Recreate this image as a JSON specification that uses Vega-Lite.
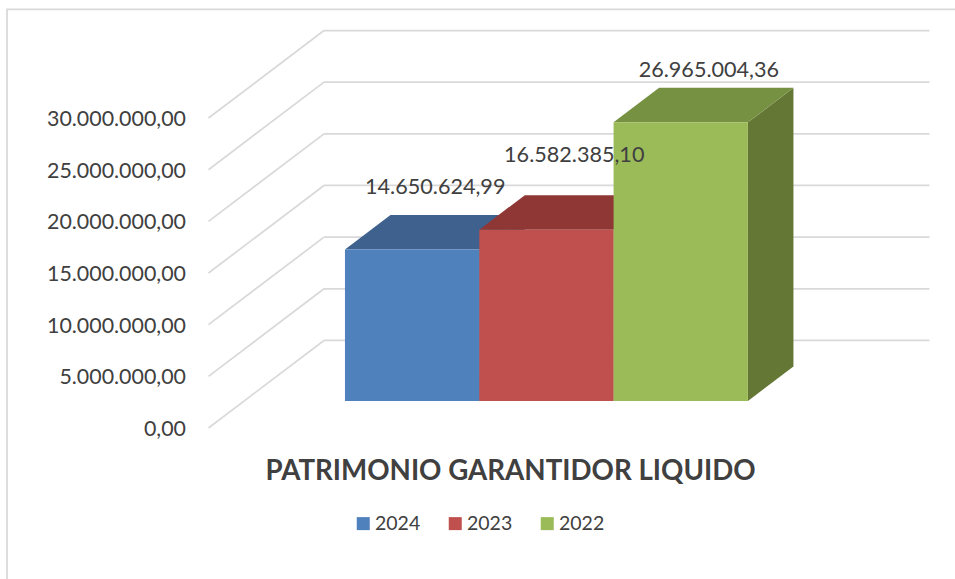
{
"$schema":"https://vega.github.io/schema/vega-lite/v6.json",
"width":721,"height":397.5,
"autosize":"none",
"padding":{"left":208.5,"top":30.5,"right":25.5,"bottom":151},
"background":"white",
"config":{"view":{"stroke":null},"text":{"font":"Lato"}},
"title":{"text":"PATRIMONIO GARANTIDOR LIQUIDO","orient":"top","anchor":"middle","frame":"group","dx":-58.5,"dy":477,"offset":0,"font":"Lato","fontSize":27.7,"fontWeight":"bold","color":"#404040"},
"datasets":{
"bars":[
{"year":"2024","slot":0,"value":14650624.99,"label":"14.650.624,99"},
{"year":"2023","slot":1,"value":16582385.10,"label":"16.582.385,10"},
{"year":"2022","slot":2,"value":26965004.36,"label":"26.965.004,36"}],
"levels":[{"level":0},{"level":5000000},{"level":10000000},{"level":15000000},{"level":20000000},{"level":25000000},{"level":30000000}]
},
"encoding":{
"x":{"field":"px","type":"quantitative","scale":{"domain":[0,5.368],"nice":false,"zero":false},"axis":null},
"y":{"field":"py","type":"quantitative","scale":{"domain":[0,38470000],"nice":false,"zero":false},
  "axis":{"title":null,"domain":false,"ticks":false,"grid":false,"values":[0,5000000,10000000,15000000,20000000,25000000,30000000],"labelPadding":23,"labelOffset":1.5,"labelFont":"Lato","labelFontSize":21.4,"labelColor":"#404040","labelExpr":"replace(replace(replace(format(datum.value,',.2f'),/,/g,'#'),/\\./g,','),/#/g,'.')"}}
},
"layer":[
{"data":{"values":[{"frame":"chart area"}]},
 "transform":[{"calculate":"-1.5","as":"px"},{"calculate":"5.9","as":"px2"},{"calculate":"40510000","as":"py"},{"calculate":"-20000000","as":"py2"}],
 "mark":{"type":"rect","filled":false,"stroke":"#D9D9D9","strokeWidth":1.75},
 "encoding":{"x2":{"field":"px2"},"y2":{"field":"py2"}}},
{"data":{"name":"levels"},
 "transform":[{"calculate":"0","as":"px"},{"calculate":"0.86","as":"px2"},{"calculate":"datum.level","as":"py"},{"calculate":"datum.level+8470000","as":"py2"}],
 "mark":{"type":"rule","stroke":"#D9D9D9","strokeWidth":1.75},
 "encoding":{"x2":{"field":"px2"},"y2":{"field":"py2"}}},
{"data":{"name":"levels"},
 "transform":[{"calculate":"0.86","as":"px"},{"calculate":"5.368","as":"px2"},{"calculate":"datum.level+8470000","as":"py"}],
 "mark":{"type":"rule","stroke":"#D9D9D9","strokeWidth":1.75},
 "encoding":{"x2":{"field":"px2"}}},
{"layer":[
{"data":{"name":"bars"},
 "transform":[{"calculate":"[0,1]","as":"s"},{"flatten":["s"]},
  {"calculate":"2.016+datum.slot+0.339*datum.s","as":"px"},
  {"calculate":"2614000+3340000*datum.s+datum.value","as":"py"},
  {"calculate":"2614000+3340000*datum.s","as":"py2"}],
 "mark":{"type":"area","interpolate":"linear"},
 "encoding":{"y2":{"field":"py2"},"detail":{"field":"year"},"color":{"field":"year","type":"nominal","legend":null,"scale":{"domain":["2024","2023","2022"],"range":["#3B5F8C","#8F3A38","#647735"]}}}},
{"data":{"name":"bars"},
 "transform":[{"calculate":"[0,1,2,3]","as":"s"},{"flatten":["s"]},
  {"calculate":"1.016+datum.slot+(datum.s==0?0:datum.s==1?0.339:datum.s==2?1:1.339)","as":"px"},
  {"calculate":"2614000+datum.value+(datum.s==0?0:3340000)","as":"py"},
  {"calculate":"2614000+datum.value+(datum.s==3?3340000:0)","as":"py2"}],
 "mark":{"type":"area","interpolate":"linear"},
 "encoding":{"y2":{"field":"py2"},"detail":{"field":"year"},"color":{"field":"year","type":"nominal","legend":null,"scale":{"domain":["2024","2023","2022"],"range":["#3E618E","#8E3735","#779142"]}}}},
{"data":{"name":"bars"},
 "transform":[{"calculate":"1.016+datum.slot","as":"px"},{"calculate":"2.016+datum.slot","as":"px2"},{"calculate":"2614000+datum.value","as":"py"},{"calculate":"2614000","as":"py2"}],
 "mark":{"type":"rect"},
 "encoding":{"x2":{"field":"px2"},"y2":{"field":"py2"},"color":{"field":"year","type":"nominal","scale":{"domain":["2024","2023","2022"],"range":["#4F81BD","#C0504D","#9BBB59"]},
  "legend":{"title":null,"orient":"none","legendX":145,"legendY":483,"direction":"horizontal","symbolType":"square","symbolSize":169,"symbolStrokeWidth":0,"labelFont":"Lato","labelFontSize":19.5,"labelColor":"#404040","labelOffset":2,"columnPadding":25}}}}
],"resolve":{"scale":{"color":"independent"}}},
{"data":{"name":"bars"},
 "transform":[{"filter":"datum.year=='2024'"},{"calculate":"1.5+datum.slot+0.1695","as":"px"},{"calculate":"2614000+1670000+datum.value","as":"py"}],
 "mark":{"type":"text","font":"Lato","fontSize":21.6,"color":"#404040","dy":-44.5,"dx":2.5,"baseline":"middle"},
 "encoding":{"text":{"field":"label"}}},
{"data":{"name":"bars"},
 "transform":[{"filter":"datum.year=='2023'"},{"calculate":"1.5+datum.slot+0.1695","as":"px"},{"calculate":"2614000+1670000+datum.value","as":"py"}],
 "mark":{"type":"text","font":"Lato","fontSize":21.6,"color":"#404040","dy":-56,"dx":7.2,"baseline":"middle"},
 "encoding":{"text":{"field":"label"}}},
{"data":{"name":"bars"},
 "transform":[{"filter":"datum.year=='2022'"},{"calculate":"1.5+datum.slot+0.1695","as":"px"},{"calculate":"2614000+1670000+datum.value","as":"py"}],
 "mark":{"type":"text","font":"Lato","fontSize":21.6,"color":"#404040","dy":-34.5,"dx":7.5,"baseline":"middle"},
 "encoding":{"text":{"field":"label"}}}
]
}
